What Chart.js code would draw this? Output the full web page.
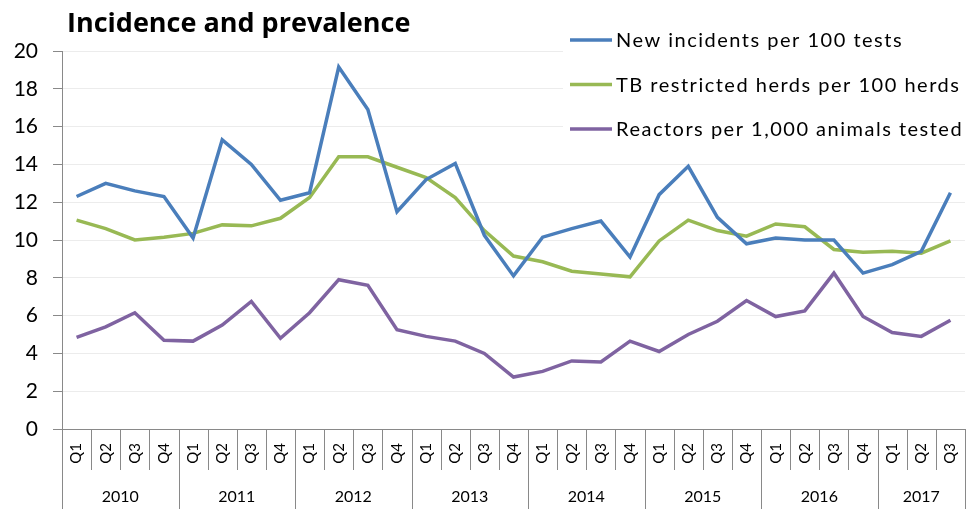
<!DOCTYPE html>
<html>
<head>
<meta charset="utf-8">
<script src="https://cdn.jsdelivr.net/npm/chart.js@4"></script>
<style>
    body { margin: 0; background: #fff; }
    .chart-container { position: relative; width: 968px; height: 509px; }
</style>
</head>
<body>
<div class="chart-container"><canvas id="tbChart"></canvas></div>
<script>
// Categories
const quarters = ['Q1','Q2','Q3','Q4','Q1','Q2','Q3','Q4','Q1','Q2','Q3','Q4','Q1','Q2','Q3','Q4',
    'Q1','Q2','Q3','Q4','Q1','Q2','Q3','Q4','Q1','Q2','Q3','Q4','Q1','Q2','Q3'];
const years = ['2010','2011','2012','2013','2014','2015','2016','2017'];
const quartersPerYear = [4, 4, 4, 4, 4, 4, 4, 3];

// Series values
const newIncidents = [12.3, 13.0, 12.6, 12.3, 10.1, 15.3, 14.0, 12.1, 12.5, 19.15, 16.9, 11.5,
    13.2, 14.05, 10.25, 8.1, 10.15, 10.6, 11.0, 9.1, 12.4, 13.9, 11.2, 9.8,
    10.1, 10.0, 10.0, 8.25, 8.7, 9.4, 12.5];
const tbHerds = [11.05, 10.6, 10.0, 10.15, 10.35, 10.8, 10.75, 11.15, 12.25, 14.4, 14.4, 13.85,
    13.3, 12.25, 10.5, 9.15, 8.85, 8.35, 8.2, 8.05, 9.95, 11.05, 10.5, 10.2,
    10.85, 10.7, 9.5, 9.35, 9.4, 9.3, 9.95];
const reactors = [4.85, 5.4, 6.15, 4.7, 4.65, 5.5, 6.75, 4.8, 6.15, 7.9, 7.6, 5.25,
    4.9, 4.65, 4.0, 2.75, 3.05, 3.6, 3.55, 4.65, 4.1, 5.0, 5.7, 6.8,
    5.95, 6.25, 8.25, 5.95, 5.1, 4.9, 5.75];

const yTicks = [0, 2, 4, 6, 8, 10, 12, 14, 16, 18, 20];

const axisGrey = '#898989';
const fontFamily = 'Lato, "Open Sans", sans-serif';

// Title, legend and the two-level x axis are drawn here
const decorations = {
    id: 'decorations',
    beforeDatasetsDraw(chart) {
        const ctx = chart.ctx;
        // legend sits on top of the plot area with a white box
        ctx.save();
        ctx.fillStyle = '#fff';
        ctx.fillRect(563, 0, chart.width - 563, 146);
        ctx.restore();
    },
    afterDraw(chart) {
        const ctx = chart.ctx;
        const x = chart.scales.x;
        const area = chart.chartArea;
        const half = (x.getPixelForValue(1) - x.getPixelForValue(0)) / 2;

        ctx.save();
        // title
        ctx.fillStyle = '#000';
        ctx.font = 'bold 27px "Open Sans", sans-serif';
        ctx.textBaseline = 'alphabetic';
        ctx.textAlign = 'left';
        ctx.fillText('Incidence and prevalence', 67, 32);

        // legend
        ctx.font = `20px ${fontFamily}`;
        ctx.letterSpacing = '1.5px';
        chart.data.datasets.forEach((ds, i) => {
            const ly = 40 + i * 44.5;
            ctx.strokeStyle = ds.borderColor;
            ctx.lineWidth = 3.5;
            ctx.beginPath();
            ctx.moveTo(570, ly);
            ctx.lineTo(612, ly);
            ctx.stroke();
            ctx.fillStyle = '#000';
            ctx.textBaseline = 'middle';
            ctx.fillText(ds.label, 616, ly + 1);
        });
        ctx.letterSpacing = '0px';

        // quarter and year separators
        ctx.strokeStyle = axisGrey;
        ctx.lineWidth = 1;
        const starts = [0];
        quartersPerYear.forEach(n => starts.push(starts[starts.length - 1] + n));
        for (let k = 0; k <= quarters.length; k++) {
            const px = Math.round(x.getPixelForValue(k) - half) + 0.5;
            const full = starts.includes(k);
            ctx.beginPath();
            ctx.moveTo(px, area.bottom);
            ctx.lineTo(px, full ? chart.height : 470);
            ctx.stroke();
        }

        // year labels
        ctx.fillStyle = '#000';
        ctx.font = `16px ${fontFamily}`;
        ctx.textAlign = 'center';
        ctx.textBaseline = 'middle';
        years.forEach((yr, i) => {
            const a = x.getPixelForValue(starts[i]) - half;
            const b = x.getPixelForValue(starts[i + 1]) - half;
            ctx.fillText(yr, (a + b) / 2, 497);
        });
        ctx.restore();
    }
};

function renderChart() {
    const ctx = document.getElementById('tbChart').getContext('2d');

    const line = (label, data, color) => ({
        label: label,
        data: data,
        borderColor: color,
        backgroundColor: color,
        borderWidth: 3.5,
        pointRadius: 0,
        tension: 0,
        fill: false
    });

    new Chart(ctx, {
        type: 'line',
        data: {
            labels: quarters,
            datasets: [
                line('New incidents per 100 tests', newIncidents, '#4A7EBB'),
                line('TB restricted herds per 100 herds', tbHerds, '#98B954'),
                line('Reactors per 1,000 animals tested', reactors, '#7F63A1')
            ]
        },
        options: {
            responsive: true,
            maintainAspectRatio: false,
            animation: false,
            layout: {
                padding: { top: 51, right: 3, left: 0, bottom: 0 }
            },
            scales: {
                x: {
                    offset: true,
                    grid: {
                        offset: true,
                        drawOnChartArea: false,
                        drawTicks: false
                    },
                    border: { color: axisGrey, width: 1 },
                    ticks: {
                        autoSkip: false,
                        minRotation: 90,
                        maxRotation: 90,
                        padding: 14,
                        color: '#000',
                        font: { family: fontFamily, size: 15 }
                    },
                    afterFit: scale => {
                        scale.height = 80;
                        scale.paddingLeft = 0;
                        scale.paddingRight = 0;
                    }
                },
                y: {
                    min: 0,
                    max: 20,
                    afterBuildTicks: scale => {
                        scale.ticks = yTicks.map(v => ({ value: v }));
                    },
                    grid: {
                        color: '#ECECEC',
                        tickColor: axisGrey,
                        tickLength: 9
                    },
                    border: { color: axisGrey, width: 1 },
                    ticks: {
                        padding: 15,
                        color: '#000',
                        font: { family: fontFamily, size: 21 }
                    },
                    afterFit: scale => {
                        scale.width = 62;
                        scale.paddingTop = 0;
                        scale.paddingBottom = 0;
                    }
                }
            },
            plugins: {
                legend: { display: false },
                tooltip: { enabled: false }
            }
        },
        plugins: [decorations]
    });
}

document.addEventListener('DOMContentLoaded', renderChart);
</script>
</body>
</html>
